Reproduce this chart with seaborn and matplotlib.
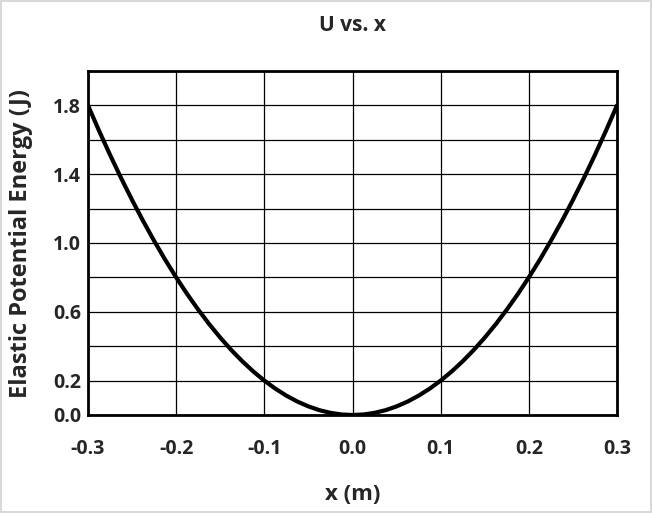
import matplotlib
matplotlib.use("Agg")
import matplotlib.pyplot as plt
import seaborn as sns
import numpy as np
import pandas as pd

# Values
x_vals = [-0.3, -0.2875, -0.275, -0.2625, -0.25, -0.2375, -0.225, -0.2125, -0.2, -0.1875,
          -0.175, -0.1625, -0.15, -0.1375, -0.125, -0.1125, -0.1, -0.0875, -0.075, -0.0625,
          -0.05, -0.0375, -0.025, -0.0125, 0.0, 0.0125, 0.025, 0.0375, 0.05, 0.0625, 0.075,
          0.0875, 0.1, 0.1125, 0.125, 0.1375, 0.15, 0.1625, 0.175, 0.1875, 0.2, 0.2125, 0.225,
          0.2375, 0.25, 0.2625, 0.275, 0.2875, 0.3]
u_vals = [1.8, 1.653, 1.5125, 1.378, 1.25, 1.128, 1.0125, 0.903, 0.8, 0.703,
          0.6125, 0.528, 0.45, 0.378, 0.3125, 0.253, 0.2, 0.153, 0.1125, 0.078,
          0.05, 0.028, 0.0125, 0.003, 0.0, 0.003, 0.0125, 0.028, 0.05, 0.078, 0.1125,
          0.153, 0.2, 0.253, 0.3125, 0.378, 0.45, 0.528, 0.6125, 0.703, 0.8, 0.903, 1.0125,
          1.128, 1.25, 1.378, 1.5125, 1.653, 1.8]
x_ticks = [-0.3, -0.2, -0.1, 0.0, 0.1, 0.2, 0.3]
x_tick_labels = ["-0.3", "-0.2", "-0.1", "0.0", "0.1", "0.2", "0.3"]
y_grid = [0.0, 0.2, 0.4, 0.6, 0.8, 1.0, 1.2, 1.4, 1.6, 1.8, 2.0]
y_ticks = [0.0, 0.2, 0.6, 1.0, 1.4, 1.8]
y_tick_labels = ["0.0", "0.2", "0.6", "1.0", "1.4", "1.8"]

sns.set_style("white")
plt.rcParams['font.family'] = ['Open Sans', 'DejaVu Sans']

df = pd.DataFrame({"x": x_vals, "U": u_vals})

fig = plt.figure(figsize=(6.52, 5.13), dpi=100, edgecolor="#d9d9d9", linewidth=1.5)
ax = fig.add_axes([88/652, 1-415/513, (617-88)/652, (415-71)/513])

for yv in y_grid:
    ax.axhline(yv, color="black", lw=0.9, zorder=1)
for xv in x_ticks:
    ax.axvline(xv, color="black", lw=0.9, zorder=1)

sns.lineplot(data=df, x="x", y="U", ax=ax, color="black", lw=3, zorder=3)

ax.set_xlim(-0.3, 0.3)
ax.set_ylim(0.0, 2.0)
ax.set_xticks(x_ticks)
ax.set_xticklabels(x_tick_labels, fontsize=14, fontweight="bold")
ax.set_yticks(y_ticks)
ax.set_yticklabels(y_tick_labels, fontsize=14, fontweight="bold")
ax.tick_params(axis="x", length=0, pad=17)
ax.tick_params(axis="y", length=0, pad=5)
for s in ax.spines.values():
    s.set_linewidth(2)
    s.set_color("black")
    s.set_zorder(4)

ax.set_xlabel("x (m)", fontsize=16, fontweight="bold", labelpad=18)
ax.set_ylabel("Elastic Potential Energy (J)", fontsize=17, fontweight="bold", labelpad=14)
ax.set_title("U vs. x", fontsize=15, fontweight="bold", pad=29)

fig.savefig("out.png", dpi=100, edgecolor=fig.get_edgecolor())
